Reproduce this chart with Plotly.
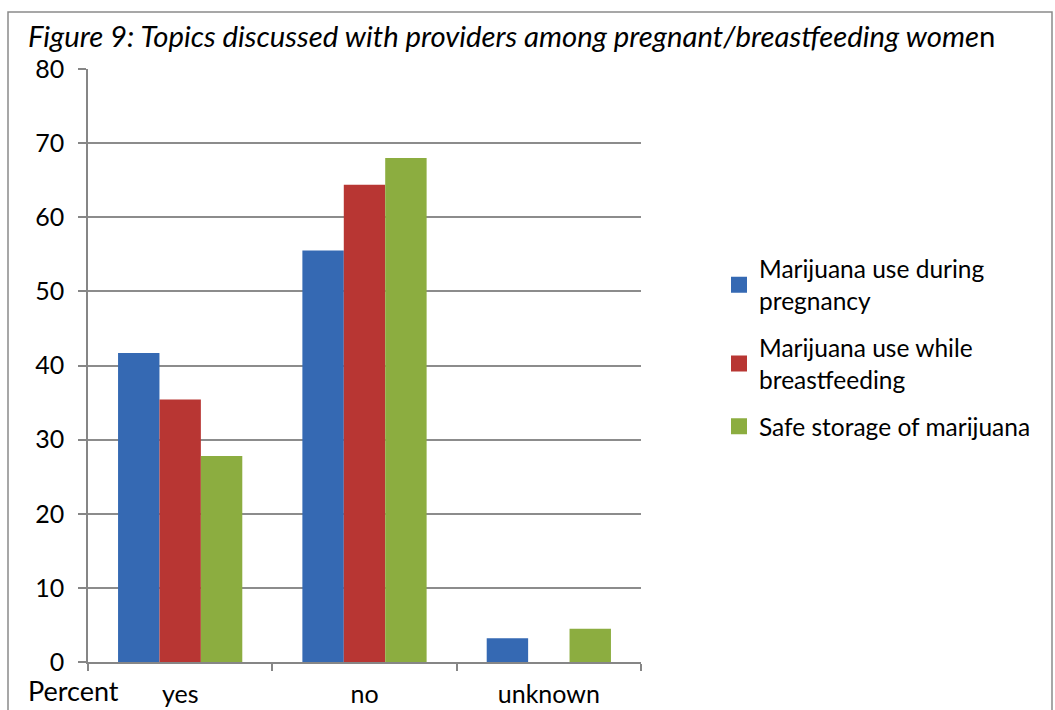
import plotly.graph_objects as go

categories = ["yes", "no", "unknown"]
series_names = ["Marijuana use during<br>pregnancy",
                "Marijuana use while<br>breastfeeding",
                "Safe storage of marijuana"]
pregnancy = [41.7, 55.5, 3.2]
breastfeeding = [35.4, 64.4, 0]
storage = [27.8, 68.0, 4.5]
colors = ["#3569B3", "#B83633", "#8CAD40"]
y_ticks = [0, 10, 20, 30, 40, 50, 60, 70, 80]

FONT = "Lato"
W, H = 1055, 710
L, R, T, B = 88, 414, 69, 48
pw, ph = W - L - R, H - T - B

def px_x(x):
    return (x - L) / pw

def px_y(y):
    return (H - B - y) / ph

fig = go.Figure()
for i, (name, vals) in enumerate(zip(series_names, [pregnancy, breastfeeding, storage])):
    fig.add_trace(go.Bar(
        x=categories, y=vals, name=name,
        marker=dict(color=colors[i], line=dict(width=0)),
        showlegend=False,
    ))
# legend entries with larger square swatches
for i, name in enumerate(series_names):
    fig.add_trace(go.Scatter(
        x=[None], y=[None], mode="markers", name=name,
        marker=dict(symbol="square", size=16, color=colors[i]),
        legendgroup=f"g{i}", showlegend=True, hoverinfo="skip",
    ))

fig.update_layout(
    width=W, height=H,
    margin=dict(l=L, r=R, t=T, b=B, autoexpand=False),
    paper_bgcolor="white", plot_bgcolor="white",
    font=dict(family=FONT, size=24, color="#000000"),
    barmode="group", bargap=0.326, bargroupgap=0,
    showlegend=True,
    legend=dict(
        x=px_x(719), y=px_y(348), xanchor="left", yanchor="middle",
        font=dict(family=FONT, size=24.5, color="#000000"),
        tracegroupgap=12, itemsizing="trace", itemwidth=30,
        bgcolor="rgba(0,0,0,0)",
    ),
    title=dict(
        text="<i>Figure 9: Topics discussed with providers among pregnant/breastfeeding wome</i>n",
        x=28 / W, xanchor="left", xref="container",
        y=1 - 37 / H, yanchor="middle", yref="container",
        font=dict(family=FONT, size=29.3, color="#000000"),
    ),
    xaxis=dict(
        showline=True, linecolor="#868686", linewidth=1.5,
        ticks="outside", ticklen=7, tickcolor="#868686", tickwidth=1.5,
        tickson="boundaries", showgrid=False,
        tickfont=dict(family=FONT, size=25),
        ticklabelstandoff=9, automargin=False,
    ),
    yaxis=dict(
        range=[0, 80], tickvals=y_ticks,
        showline=True, linecolor="#868686", linewidth=1.5,
        ticks="outside", ticklen=8, tickcolor="#868686", tickwidth=1.5,
        showgrid=True, gridcolor="#8C8C8C", gridwidth=1.5,
        zeroline=False,
        tickfont=dict(family=FONT, size=25),
        ticklabelstandoff=9, automargin=False,
    ),
    shapes=[dict(
        type="rect", xref="paper", yref="paper",
        x0=px_x(8), x1=px_x(1052), y0=px_y(725), y1=px_y(12),
        line=dict(color="#8A8A8A", width=1.5), fillcolor="rgba(0,0,0,0)",
        layer="below",
    )],
    annotations=[dict(
        text="Percent", xref="paper", yref="paper",
        x=px_x(73), y=px_y(690), xanchor="center", yanchor="middle",
        showarrow=False, font=dict(family=FONT, size=27, color="#000000"),
    )],
)

fig.write_html("out.html")
